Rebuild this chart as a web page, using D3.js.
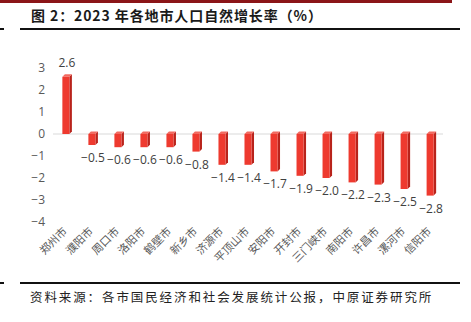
<!DOCTYPE html>
<html><head><meta charset="utf-8">
<script src="https://cdn.jsdelivr.net/npm/d3@7/dist/d3.min.js"></script>
<style>
html,body{margin:0;padding:0;background:#fff;}
svg{display:block;}
</style></head>
<body>
<svg id="c" width="471" height="322"></svg>
<script>
const categories = ["郑州市","濮阳市","周口市","洛阳市","鹤壁市","新乡市","济源市","平顶山市","安阳市","开封市","三门峡市","南阳市","许昌市","漯河市","信阳市"];
const values = [2.6,-0.5,-0.6,-0.6,-0.6,-0.8,-1.4,-1.4,-1.7,-1.9,-2.0,-2.2,-2.3,-2.5,-2.8];
const yTicks = [3,2,1,0,-1,-2,-3,-4];
const titleText = "图 2：2023 年各地市人口自然增长率（%）";
const sourceText = "资料来源：各市国民经济和社会发展统计公报，中原证券研究所";

const svg = d3.select("#c");
const cjk = "'Noto Sans CJK SC','Noto Sans',sans-serif";

// decorations
svg.append("rect").attr("x",0).attr("y",0).attr("width",452).attr("height",3).attr("fill","#8b1518");
svg.append("text").attr("x",31).attr("y",21).attr("font-family",cjk).attr("font-size",14).attr("font-weight","bold")
  .attr("letter-spacing",0.9).attr("fill","#1a1a1a").text(titleText);
svg.append("rect").attr("x",20).attr("y",28).attr("width",440).attr("height",2).attr("fill","#111");
svg.append("rect").attr("x",0).attr("y",28).attr("width",4).attr("height",2).attr("fill","#111");
svg.append("rect").attr("x",20).attr("y",282).attr("width",440).attr("height",2).attr("fill","#111");
svg.append("rect").attr("x",0).attr("y",282).attr("width",4).attr("height",2).attr("fill","#111");
svg.append("text").attr("x",30).attr("y",302).attr("font-family",cjk).attr("font-size",12.5)
  .attr("letter-spacing",1.9).attr("fill","#222").text(sourceText);

// scales
const x = d3.scaleBand().domain(categories).range([53, 443]).paddingInner(0.73).paddingOuter(0.36);
const y = d3.scaleLinear().domain([-4, 3]).range([222, 68]);

// y axis labels
const yAxis = d3.axisLeft(y).tickValues(yTicks).tickSize(0).tickPadding(0).tickFormat(d3.format("d"));
const ya = svg.append("g").attr("transform","translate(45,0)").call(yAxis);
ya.select(".domain").remove();
ya.selectAll("text").attr("font-family","'Open Sans','Noto Sans',sans-serif").attr("font-size",12).attr("fill","#595959");

// zero line
svg.append("line").attr("x1",53).attr("x2",443).attr("y1",y(0)).attr("y2",y(0)).attr("stroke","#d9d9d9").attr("stroke-width",1);

// bars with 3D look
const d = 2.5;
const g = svg.append("g");
categories.forEach((c,i)=>{
  const v = values[i];
  const x0 = x(c), w = x.bandwidth();
  const yTop = y(Math.max(0,v)), yBot = y(Math.min(0,v));
  g.append("path").attr("d",`M${x0+w},${yTop} L${x0+w+d},${yTop-d} L${x0+w+d},${yBot-d} L${x0+w},${yBot} Z`).attr("fill","#b9231b");
  g.append("path").attr("d",`M${x0},${yTop} L${x0+d},${yTop-d} L${x0+w+d},${yTop-d} L${x0+w},${yTop} Z`).attr("fill","#f26a60");
  g.append("rect").attr("x",x0).attr("y",yTop).attr("width",w).attr("height",yBot-yTop).attr("fill","#ee3a2f");
  g.append("text").attr("x",x0+w/2+1).attr("y", v>=0 ? yTop-10 : yBot+17)
    .attr("text-anchor","middle").attr("font-family","'Open Sans','Noto Sans',sans-serif").attr("font-size",12)
    .attr("fill","#404040").text(d3.format(".1f")(v));
});

// x labels rotated
const xa = svg.append("g");
categories.forEach((c)=>{
  const cx = x(c) + x.bandwidth()/2 + 2;
  xa.append("text").attr("transform",`translate(${cx},232) rotate(-45)`)
    .attr("text-anchor","end").attr("font-family",cjk).attr("font-size",11).attr("fill","#595959").text(c);
});
</script>
</body></html>
